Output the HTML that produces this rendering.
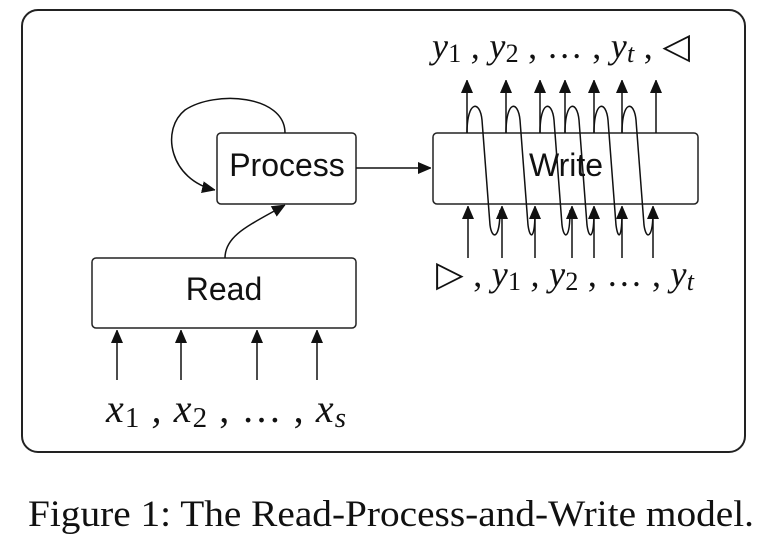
<!DOCTYPE html>
<html><head><style>
body{margin:0;background:#fff;width:763px;height:534px;overflow:hidden}
svg{position:absolute;left:0;top:0}
</style></head><body>
<svg width="763" height="534" viewBox="0 0 763 534">
<defs>
<marker id="b" markerWidth="12" markerHeight="14" refX="13" refY="6" orient="auto" markerUnits="userSpaceOnUse"><path d="M0,0 L14,6 L0,12 z" fill="#111"/></marker></defs>
<rect x="22" y="10" width="723" height="442" rx="16" fill="none" stroke="#222" stroke-width="2"/>
<g fill="#fff" stroke="#222" stroke-width="1.5">
<rect x="217" y="133" width="139" height="71" rx="4"/>
<rect x="92" y="258" width="264" height="70" rx="4"/>
<rect x="433" y="133" width="265" height="71" rx="4"/>
</g>
<g font-family="Liberation Sans, sans-serif" font-size="32" text-anchor="middle" fill="#111">
<text x="287" y="176">Process</text><text x="224" y="300">Read</text><text x="566" y="176">Write</text>
</g>
<g stroke="#111" stroke-width="1.5" fill="none">
<path d="M285,133 C285,95 215,90 185,110 C160,130 170,180 215,190" marker-end="url(#b)"/>
<path d="M225,258 C225,235 250,225 285,205" marker-end="url(#b)"/>
<path d="M356,168 L431,168" marker-end="url(#b)"/>
<g marker-end="url(#b)">
<path d="M117,380 L117,330"/><path d="M181,380 L181,330"/><path d="M257,380 L257,330"/><path d="M317,380 L317,330"/>
<path d="M467,133 L467,80"/><path d="M506,133 L506,80"/><path d="M540,133 L540,80"/><path d="M565,133 L565,80"/><path d="M594,133 L594,80"/><path d="M622,133 L622,80"/><path d="M656,133 L656,80"/>
<path d="M468,258 L468,206"/><path d="M502,258 L502,206"/><path d="M535,258 L535,206"/><path d="M572,258 L572,206"/><path d="M594,258 L594,206"/><path d="M622,258 L622,206"/><path d="M653,258 L653,206"/>
</g>
<path d="M467,133 C467,100 480,100 482,120 L490,225 C492,240 500,240 500,210"/>
<path d="M506,133 C506,100 518,100 520,120 L528,225 C530,240 535,240 535,210"/>
<path d="M540,133 C540,100 552,100 554,120 L562,225 C564,240 570,240 570,210"/>
<path d="M565,133 C565,100 577,100 579,120 L587,225 C589,240 594,240 594,210"/>
<path d="M594,133 C594,100 606,100 608,120 L616,225 C618,240 622,240 622,210"/>
<path d="M622,133 C622,100 634,100 636,120 L644,225 C646,240 653,240 653,210"/>
</g>
<g font-family="Liberation Serif, serif" font-size="36" fill="#111" font-style="italic">
<text x="432" y="58" textLength="258" lengthAdjust="spacing">y<tspan font-style="normal" font-size="26" dy="4">1</tspan><tspan dy="-4"> , y</tspan><tspan font-style="normal" font-size="26" dy="4">2</tspan><tspan font-style="normal" dy="-4"> , … , </tspan>y<tspan font-size="26" dy="4">t</tspan><tspan font-style="normal" dy="-4"> , ◁</tspan></text>
<text x="436" y="286" textLength="258" lengthAdjust="spacing"><tspan font-style="normal">▷ , </tspan>y<tspan font-style="normal" font-size="26" dy="4">1</tspan><tspan dy="-4"> , y</tspan><tspan font-style="normal" font-size="26" dy="4">2</tspan><tspan font-style="normal" dy="-4"> , … , </tspan>y<tspan font-size="26" dy="4">t</tspan></text>
<text x="106" y="422" font-size="40" textLength="240" lengthAdjust="spacing">x<tspan font-style="normal" font-size="29" dy="5">1</tspan><tspan dy="-5"> , x</tspan><tspan font-style="normal" font-size="29" dy="5">2</tspan><tspan font-style="normal" dy="-5"> , … , </tspan>x<tspan font-size="29" dy="5">s</tspan></text>
</g>
<text x="28" y="526" font-family="Liberation Serif, serif" font-size="37" fill="#111" textLength="726" lengthAdjust="spacingAndGlyphs">Figure 1: The Read-Process-and-Write model.</text>
</svg>
</body></html>
